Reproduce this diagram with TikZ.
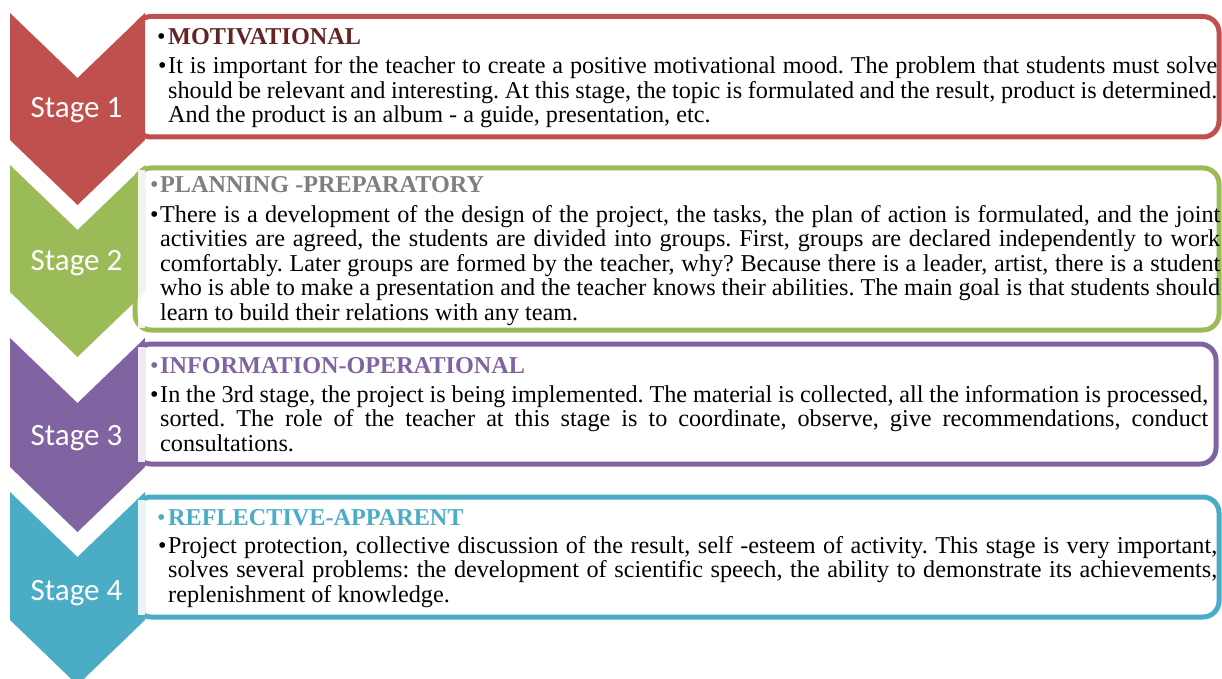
\documentclass[tikz,border=0pt]{standalone}
\usepackage{fontspec}
\setmainfont{Liberation Serif}
\newfontfamily\stagefont{Carlito}
\definecolor{cred}{HTML}{C0504D}
\definecolor{cgreen}{HTML}{9BBB59}
\definecolor{cpurple}{HTML}{8064A2}
\definecolor{caqua}{HTML}{4BACC6}
\definecolor{hred}{HTML}{632423}
\definecolor{hgray}{HTML}{7F7F7F}
\hbadness=10000 \hfuzz=20pt
\frenchspacing
\tikzset{
  boxshape/.style={line width=5pt, rounded corners=16pt, fill=white},
  stagelab/.style={anchor=base, inner sep=0pt, text=white, font=\stagefont\fontsize{31}{31}\selectfont},
  bul/.style={anchor=base west, inner sep=0pt, font=\fontsize{24.2}{24.5}\selectfont},
  head/.style={anchor=base west, inner sep=0pt, font=\bfseries\fontsize{24.2}{24.5}\selectfont},
  bodytxt/.style={anchor=base west, inner sep=0pt, font=\fontsize{24.2}{24.5}\selectfont},
}
\begin{document}
\begin{tikzpicture}[x=1pt,y=-1pt]
\useasboundingbox (0,0) rectangle (1222,679);
% ---------- boxes ----------
\draw[boxshape, draw=cred]    (135,16.5) rectangle (1219,137);
\draw[boxshape, draw=cgreen]  (135,168) rectangle (1219,330);
\draw[boxshape, draw=cpurple] (135,344) rectangle (1216,464);
\draw[boxshape, draw=caqua]   (135,497) rectangle (1219,617);
% ---------- chevrons ----------
\fill[cred]    (10,13) -- (77.5,78) -- (145,13) -- (145,140) -- (77.5,205) -- (10,140) -- cycle;
\fill[cgreen]  (10,165) -- (77.5,230) -- (145,165) -- (145,292) -- (77.5,357) -- (10,292) -- cycle;
\fill[cpurple] (10,338) -- (77.5,403) -- (145,338) -- (145,467) -- (77.5,532) -- (10,467) -- cycle;
\fill[caqua]   (10,492) -- (77.5,557) -- (145,492) -- (145,620) -- (77.5,685) -- (10,620) -- cycle;
% light tint where the box overlaps the chevron
\fill[white, opacity=0.88] (137.5,170.5) rectangle (145,327.5);
\fill[white, opacity=0.88] (137.5,346.5) rectangle (145,461.5);
\fill[white, opacity=0.88] (137.5,499.5) rectangle (145,614.5);
% ---------- stage labels ----------
\node[stagelab] (s1) at (76.5,118) {Stage 1};
\node[stagelab] (s2) at (76.5,270) {Stage 2};
\node[stagelab] (s3) at (76.5,445) {Stage 3};
\node[stagelab] (s4) at (76.5,600) {Stage 4};
% ---------- stage 1 ----------
\node[bul] (h1b) at (157,45) {•};
\node[head, text=hred] (h1) at (168,45) {MOTIVATIONAL};
\node[bul] (t1b) at (158,74) {•};
\node[bodytxt] (t1) at (168,74) {\parbox[t]{1049pt}{It is important for the teacher to create a positive motivational mood. The problem that students must solve\linebreak should be relevant and interesting. At this stage, the topic is formulated and the result, product is determined.\linebreak And the product is an album - a guide, presentation, etc.}};
% ---------- stage 2 ----------
\node[bul, text=hgray] (h2b) at (150,193) {•};
\node[head, text=hgray] (h2) at (160,193) {PLANNING -PREPARATORY};
\node[bul] (t2b) at (150,222) {•};
\node[bodytxt] (t2) at (160,222) {\parbox[t]{1060pt}{There is a development of the design of the project, the tasks, the plan of action is formulated, and the joint\linebreak activities are agreed, the students are divided into groups. First, groups are declared independently to work\linebreak comfortably. Later groups are formed by the teacher, why? Because there is a leader, artist, there is a student\linebreak who is able to make a presentation and the teacher knows their abilities. The main goal is that students should\linebreak learn to build their relations with any team.}};
% ---------- stage 3 ----------
\node[bul, text=cpurple] (h3b) at (150,373) {•};
\node[head, text=cpurple] (h3) at (160,373) {INFORMATION-OPERATIONAL};
\node[bul] (t3b) at (150,402) {•};
\node[bodytxt] (t3) at (160,402) {\parbox[t]{1048pt}{In the 3rd stage, the project is being implemented. The material is collected, all the information is processed,\linebreak sorted. The role of the teacher at this stage is to coordinate, observe, give recommendations, conduct\linebreak consultations.}};
% ---------- stage 4 ----------
\node[bul, text=caqua] (h4b) at (157,525) {•};
\node[head, text=caqua] (h4) at (168,525) {REFLECTIVE-APPARENT};
\node[bul] (t4b) at (158,553) {•};
\node[bodytxt] (t4) at (168,553) {\parbox[t]{1049pt}{Project protection, collective discussion of the result, self -esteem of activity. This stage is very important,\linebreak solves several problems: the development of scientific speech, the ability to demonstrate its achievements,\linebreak replenishment of knowledge.}};
\end{tikzpicture}
\end{document}
